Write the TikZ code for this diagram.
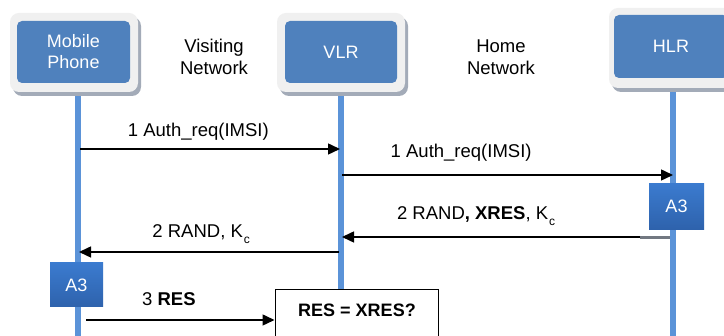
\documentclass[tikz,border=0pt]{standalone}
\usepackage{fontspec}
\setmainfont{Liberation Sans}
\usetikzlibrary{arrows.meta}
\definecolor{boxblue}{HTML}{4F81BD}
\definecolor{lifeblue}{HTML}{5B93D8}
\definecolor{framegray}{HTML}{F0F0F0}
\definecolor{shadowgray}{HTML}{A3ABB8}
\definecolor{athree}{HTML}{3B7BCF}
\definecolor{athreedark}{HTML}{2E62AC}
\tikzset{
  lifeline/.style={draw=lifeblue,line width=6pt},
  frame/.style={fill=framegray,rounded corners=9pt},
  frameshadow/.style={fill=shadowgray,rounded corners=9pt},
  entity/.style={fill=boxblue,rounded corners=5pt,text=white,font=\fontsize{18}{21}\selectfont,align=center,inner sep=0pt},
  plain/.style={font=\fontsize{18.5}{21.5}\selectfont,align=center,inner sep=0pt},
  msg/.style={line width=1.5pt,-{Triangle[length=12pt,width=11pt]}},
  lbl/.style={font=\fontsize{18.5}{21}\selectfont,inner sep=0pt,anchor=base},
  algbox/.style={top color=athree,bottom color=athreedark,text=white,font=\fontsize{18}{21}\selectfont,minimum width=55pt,minimum height=46pt,inner sep=0pt},
}
\newcommand{\Kc}{K\kern1pt\raisebox{-0.55ex}{\fontsize{12}{14}\selectfont c}}
\begin{document}
\begin{tikzpicture}[x=1pt,y=-1pt]
\useasboundingbox (0,0) rectangle (724,336);
\fill[white] (0,0) rectangle (724,336);
% lifelines
\draw[lifeline] (78,92) -- (78,336);
\draw[lifeline] (341,92) -- (341,300);
\draw[lifeline] (673,88) -- (673,336);
% entity boxes
\fill[frameshadow] (13,17) rectangle (141,96);
\fill[frame] (10,13) rectangle (138,92);
\node[entity,minimum width=113pt,minimum height=62pt] (mp) at (73.5,52) {Mobile\\Phone};
\fill[frameshadow] (280,17) rectangle (408,96);
\fill[frame] (277,13) rectangle (405,92);
\node[entity,minimum width=112pt,minimum height=62pt] (vlr) at (341,52) {VLR};
\fill[frameshadow] (612,12) rectangle (740,92);
\fill[frame] (609,8) rectangle (737,88);
\node[entity,minimum width=114pt,minimum height=63pt] (hlr) at (671,46.5) {HLR};
% network labels
\node[plain] (vn) at (214,57) {Visiting\\Network};
\node[plain] (hn) at (501,57) {Home\\Network};
% lifeline anchor points
\coordinate (m1) at (80,149);
\coordinate (v1) at (340,149);
\coordinate (v2) at (342,175);
\coordinate (h2) at (673,175);
\coordinate (h3) at (640,237);
\coordinate (v3) at (342,237);
\coordinate (v4) at (339,252);
\coordinate (m4) at (79,252);
\coordinate (m5) at (86,320);
% A3 boxes
\node[algbox] (a3h) at (676.5,206.5) {A3};
\node[algbox,minimum width=53pt,minimum height=44pt] (a3m) at (76.5,285) {A3};
\draw[line width=3pt,shadowgray!70!black] (640,238) -- (670,238);
% messages
\draw[msg] (m1) -- node[lbl,pos=0.455,yshift=12pt] (l1) {1 Auth\_req(IMSI)} (v1);
\draw[msg] (v2) -- node[lbl,pos=0.36,yshift=17pt] (l2) {1 Auth\_req(IMSI)} (h2);
\draw[msg] (h3) -- node[lbl,pos=0.55,yshift=17pt] (l3) {2 RAND\textbf{, XRES}, \Kc} (v3);
\draw[msg] (v4) -- node[lbl,pos=0.53,yshift=14pt] (l4) {2 RAND, \Kc} (m4);
% comparison box
\node[draw=black,line width=1.5pt,fill=white,minimum width=163pt,minimum height=52pt,anchor=north west] (cmp) at (274.5,289) {};
\node[font=\bfseries\fontsize{18}{20}\selectfont,anchor=base,inner sep=0pt] (cmpt) at (357,317) {RES = XRES?};
\draw[msg] (m5) -- node[lbl,pos=0.44,yshift=14pt] (l5) {3 \textbf{RES}} (cmp.west |- m5);
\end{tikzpicture}
\end{document}
